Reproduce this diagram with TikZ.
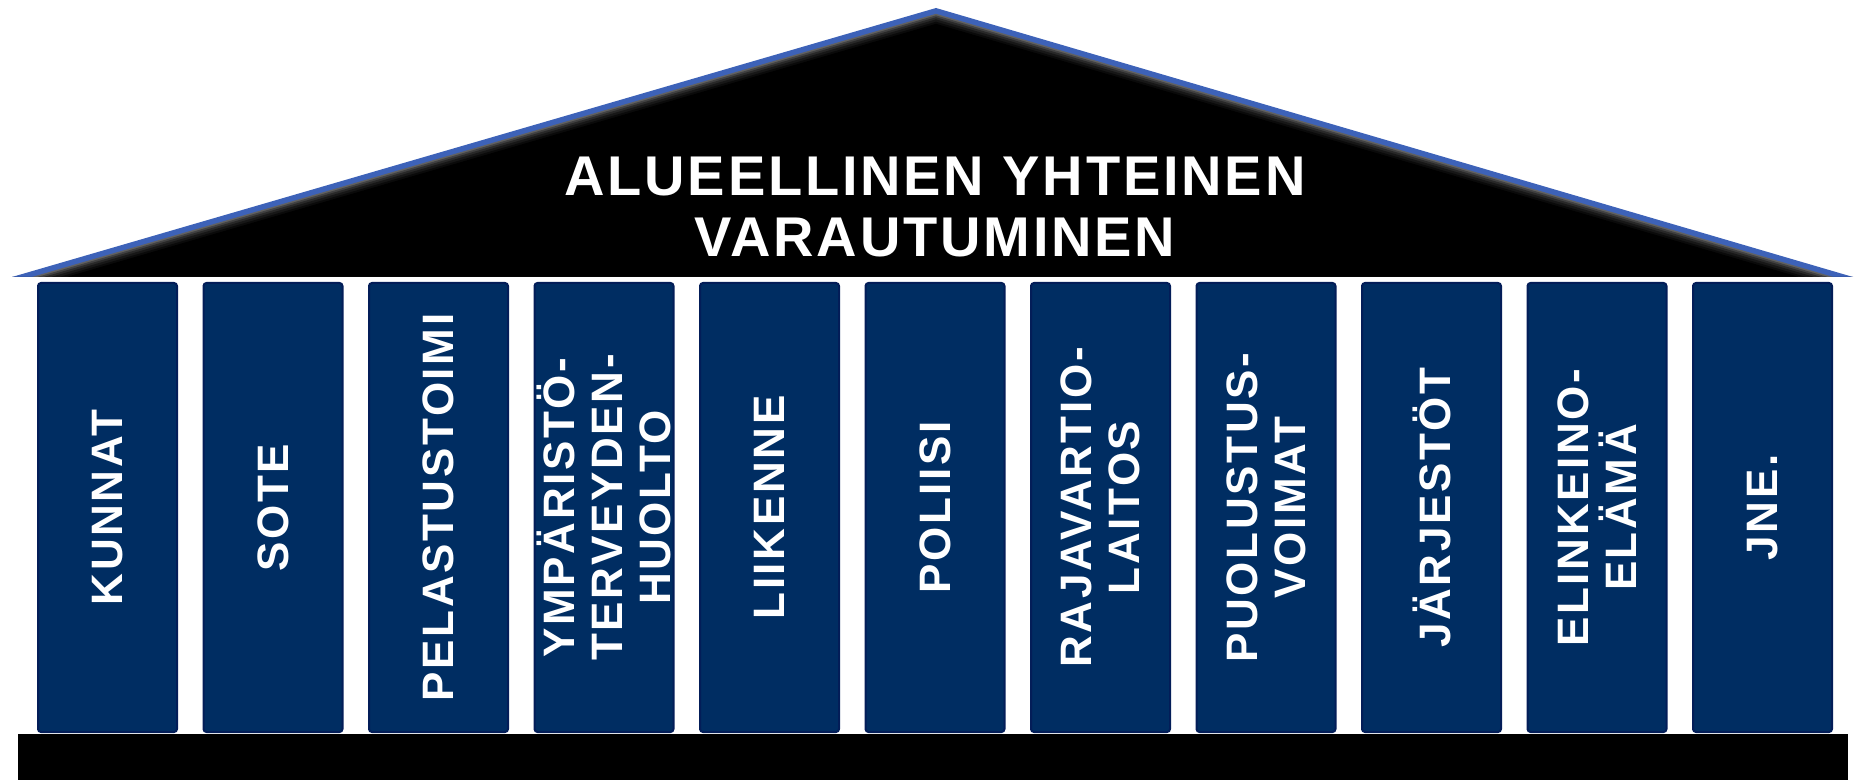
\documentclass[tikz,border=0pt]{standalone}
\usepackage{fontspec}
\setmainfont{Liberation Sans}
\newfontfamily\roofFont{Liberation Sans}[LetterSpace=5]
\newfontfamily\pillarFont{Liberation Sans}[LetterSpace=6]
\usetikzlibrary{calc}
\definecolor{roofblue}{HTML}{3D62B8}
\definecolor{pillarblue}{HTML}{002D62}
\definecolor{pillaredge}{HTML}{031D58}
\tikzset{
  pillar/.style={rectangle, rounded corners=1.5pt, fill=pillarblue, draw=pillaredge,
    line width=1pt, rotate=90, minimum width=224.5pt, minimum height=69.5pt,
    inner sep=0pt, text=white, align=center,
    font=\pillarFont\bfseries\fontsize{22}{24}\selectfont},
  rooftext/.style={text=white, align=center, inner sep=0pt,
    font=\roofFont\bfseries\fontsize{28}{30.5}\selectfont}
}
\begin{document}
\begin{tikzpicture}[x=0.5pt, y=-0.5pt]
\useasboundingbox (0,0) rectangle (1854,780);
% Roof corners
\coordinate (eaveL) at (12,277);
\coordinate (ridge) at (936,8);
\coordinate (eaveR) at (1853,277);
\coordinate (roofmid) at (936,272);
% Draw roof: blue rim, then darker layers inwards
\fill[roofblue] (eaveL) -- (ridge) -- (eaveR) -- cycle;
\fill[roofblue!45!black] ($(roofmid)!0.978!(eaveL)$) -- ($(roofmid)!0.978!(eaveR)$)
  -- (eaveR) -- (eaveL) -- cycle;
\foreach \s/\g in {0.978/62,0.972/74,0.965/84,0.957/91,0.948/96,0.94/100}
  \fill[black!\g] ($(roofmid)!\s!(eaveL)$) -- ($(roofmid)!\s!(ridge)$)
    -- ($(roofmid)!\s!(eaveR)$) -- cycle;
% Roof title
\node[rooftext] (title) at (935,207.5) {ALUEELLINEN YHTEINEN\\VARAUTUMINEN};
% Pillars
\foreach \i/\txt in {1/KUNNAT, 2/SOTE, 3/PELASTUSTOIMI,
    4/YMPÄRISTÖ-\\TERVEYDEN-\\HUOLTO, 5/LIIKENNE, 6/POLIISI,
    7/RAJAVARTIO-\\LAITOS, 8/PUOLUSTUS-\\VOIMAT, 9/JÄRJESTÖT,
    10/ELINKEINO-\\ELÄMÄ, 11/JNE.}
  \node[pillar] (pillar\i) at ({107.5+165.5*(\i-1)},507.5) {\txt};
% Base
\fill (18,734) rectangle (1848,780);
\end{tikzpicture}
\end{document}
